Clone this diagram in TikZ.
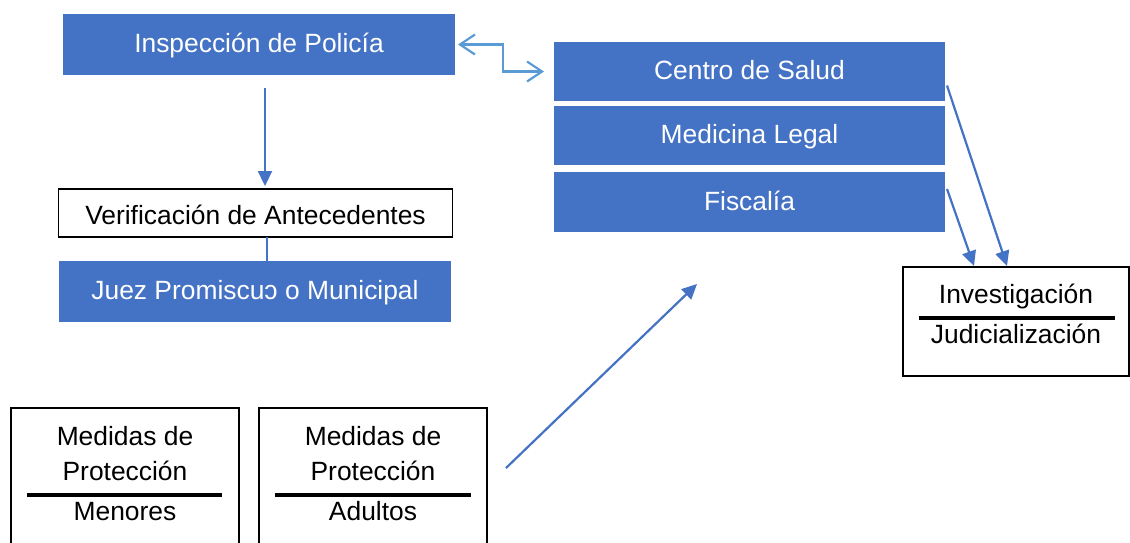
\documentclass[tikz,border=0pt]{standalone}
\usepackage{fontspec}
\setmainfont{Liberation Sans}
\usetikzlibrary{arrows.meta}
\definecolor{boxblue}{HTML}{4472C4}
\definecolor{lightblue}{HTML}{5B9BD5}
\begin{document}
\begin{tikzpicture}[x=1pt,y=-1pt,
  txt/.style={font=\fontsize{26.4}{30}\selectfont},
  bluebox/.style={txt,fill=boxblue,text=white,inner sep=0pt,outer sep=0pt,text height=20pt,text depth=4pt},
  whitebox/.style={txt,draw=black,line width=1.5pt,fill=white,inner sep=0pt,outer sep=0pt,text height=24pt,text depth=2pt},
  lbl/.style={txt,anchor=base,inner sep=0pt},
  rulebar/.style={line width=3.5pt,black},
  flow/.style={draw=boxblue,line width=2.2pt,-{Triangle[length=15pt,width=14pt]}},
  plainline/.style={draw=boxblue,line width=2.2pt},
  dbl/.style={draw=lightblue,line width=2.2pt,{Straight Barb[length=15pt,width=20pt]}-{Straight Barb[length=15pt,width=20pt]}}]
\useasboundingbox (0,0) rectangle (1130,542);
\clip (0,0) rectangle (1130,542);

% blue boxes
\node[bluebox,minimum width=392pt,minimum height=61pt] (insp) at (259,44.5) {Inspección de Policía};
\node[bluebox,minimum width=391pt,minimum height=59pt] (salud) at (749.5,71.5) {Centro de Salud};
\node[bluebox,minimum width=391pt,minimum height=59pt] (med) at (749.5,135.5) {Medicina Legal};
\node[bluebox,minimum width=391pt,minimum height=60pt] (fisc) at (749.5,202) {Fiscalía};
\node[whitebox,minimum width=394pt,minimum height=48pt] (verif) at (255.5,213) {Verificación de Antecedentes};
\node[bluebox,minimum width=392pt,minimum height=61pt] (juez) at (255,291.5) {Juez Promiscuɔ o Municipal};

% Investigación box
\node[whitebox,minimum width=226pt,minimum height=109pt] (inv) at (1016,321.5) {};
\node[lbl] (invt) at (1016,303) {Investigación};
\node[lbl] (judt) at (1016,343) {Judicialización};
\draw[rulebar] (919,318) -- (1115,318);

% Medidas boxes
\node[whitebox,minimum width=228pt,minimum height=152pt] (men) at (125,484) {};
\node[lbl] (men1) at (125,445) {Medidas de};
\node[lbl] (men2) at (125,480) {Protección};
\node[lbl] (men3) at (125,520) {Menores};
\draw[rulebar] (27,495) -- (222,495);

\node[whitebox,minimum width=228pt,minimum height=152pt] (adu) at (373,484) {};
\node[lbl] (adu1) at (373,445) {Medidas de};
\node[lbl] (adu2) at (373,480) {Protección};
\node[lbl] (adu3) at (373,520) {Adultos};
\draw[rulebar] (275,495) -- (471,495);

% connectors
\draw[flow] ([xshift=6pt,yshift=-13pt]insp.south) -- ([xshift=9.5pt,yshift=3pt]verif.north);
\draw[plainline] ([xshift=11.5pt]verif.south) -- ([xshift=12pt]juez.north);
\draw[dbl] ([xshift=3pt]insp.east) -- ++(45pt,0) |- ([xshift=-10pt]salud.west);
\draw[flow] ([xshift=2pt,yshift=-14pt]salud.east) -- ([xshift=-9pt,yshift=1pt]inv.north);
\draw[flow] ([xshift=2pt,yshift=13pt]fisc.east) -- ([xshift=-42pt,yshift=1pt]inv.north);
\coordinate (a1) at (506,468);
\coordinate (a2) at (697,284);
\draw[flow] (a1) -- (a2);
\end{tikzpicture}
\end{document}
